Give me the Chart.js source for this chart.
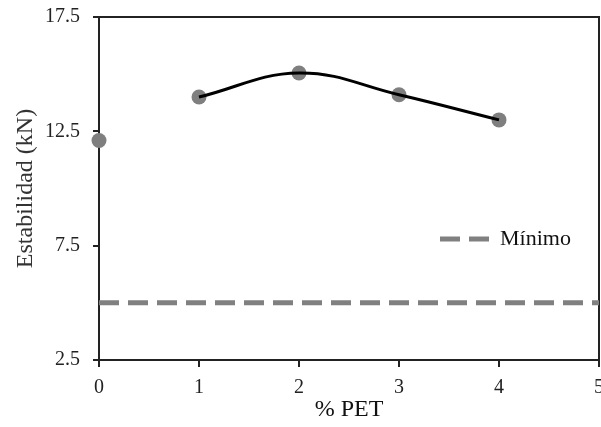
<!DOCTYPE html>
<html>
<head>
<meta charset="utf-8">
<script src="https://cdn.jsdelivr.net/npm/chart.js@4.4.1/dist/chart.umd.min.js"></script>
<style>
  html, body { margin: 0; padding: 0; background: #fff; }
</style>
</head>
<body>
<canvas id="chart" width="601" height="427"></canvas>
<script>
// values
const petSinPet = [0];
const estSinPet = [12.1];
const petMezcla = [1, 2, 3, 4];
const estMezcla = [14.0, 15.05, 14.1, 13.0];
const petMinimo = [0, 5];
const estMinimo = [5, 5];
const xTicks = [0, 1, 2, 3, 4, 5];
const yTicks = [2.5, 7.5, 12.5, 17.5];

const toXY = (xs, ys) => xs.map((x, i) => ({ x: x, y: ys[i] }));

Chart.defaults.font.family = '"Liberation Serif", "Times New Roman", serif';
Chart.defaults.color = '#222';

const axisColor = '#222';

// put the legend inside the plot, right of centre
const legendInside = {
    id: 'legendInside',
    afterLayout(chart) {
        const lg = chart.legend;
        const area = chart.chartArea;
        lg.left = area.right - 169;
        lg.top = area.top + 201;
        lg.right = lg.left + lg.width;
        lg.bottom = lg.top + lg.height;
    }
};

// legend sample should use the dashed line of the dataset
function makeLabels(chart) {
    return Chart.defaults.plugins.legend.labels.generateLabels(chart)
        .filter(item => item.text === 'Mínimo')
        .map(item => {
            const ds = chart.data.datasets[item.datasetIndex];
            item.lineDash = ds.borderDash;
            item.lineWidth = ds.borderWidth;
            item.strokeStyle = ds.borderColor;
            item.pointStyle = 'line';
            return item;
        });
}

const ctx = document.getElementById('chart').getContext('2d');
const chart = new Chart(ctx, {
    type: 'scatter',
    data: {
        datasets: [{
            label: 'Ajuste',
            data: toXY(petMezcla, estMezcla),
            showLine: true,
            borderColor: '#000',
            borderWidth: 3,
            tension: 0.4,
            pointRadius: 0,
            pointHoverRadius: 0,
            clip: false
        }, {
            label: 'Con PET',
            data: toXY(petMezcla, estMezcla),
            pointRadius: 7.5,
            pointBackgroundColor: '#7f7f7f',
            pointBorderWidth: 0,
            clip: false
        }, {
            label: 'Sin PET',
            data: toXY(petSinPet, estSinPet),
            pointRadius: 7.5,
            pointBackgroundColor: '#7f7f7f',
            pointBorderWidth: 0,
            clip: false
        }, {
            label: 'Mínimo',
            data: toXY(petMinimo, estMinimo),
            showLine: true,
            borderColor: '#808080',
            borderWidth: 5,
            borderDash: [20, 9],
            pointRadius: 0,
            pointHoverRadius: 0,
            clip: false
        }]
    },
    options: {
        responsive: false,
        animation: false,
        layout: { autoPadding: false, padding: { top: 17, right: 2, left: 0, bottom: 0 } },
        plugins: {
            tooltip: { enabled: false },
            legend: {
                position: 'chartArea',
                align: 'start',
                labels: {
                    generateLabels: makeLabels,
                    usePointStyle: true,
                    pointStyle: 'line',
                    pointStyleWidth: 49,
                    padding: 10,
                    color: '#111',
                    font: { size: 22 }
                }
            }
        },
        scales: {
            x: {
                type: 'linear',
                position: 'bottom',
                min: 0,
                max: 5,
                afterBuildTicks: s => { s.ticks = xTicks.map(v => ({ value: v })); },
                afterFit: s => { s.height = 67; s.paddingLeft = 0; s.paddingRight = 0; },
                ticks: { font: { size: 20 }, color: '#222', padding: 9 },
                grid: { drawOnChartArea: false, tickLength: 7, color: axisColor, lineWidth: 2 },
                border: { color: axisColor, width: 2 },
                title: {
                    display: true,
                    text: '% PET',
                    color: '#111',
                    font: { size: 24 },
                    padding: { top: -4, bottom: 3 }
                }
            },
            y: {
                type: 'linear',
                position: 'left',
                min: 2.5,
                max: 17.5,
                afterBuildTicks: s => { s.ticks = yTicks.map(v => ({ value: v })); },
                afterFit: s => { s.width = 99; s.paddingTop = 0; s.paddingBottom = 0; },
                ticks: {
                    font: { size: 20 },
                    color: '#222',
                    padding: 13,
                    callback: v => v.toFixed(1)
                },
                grid: { drawOnChartArea: false, tickLength: 6, color: axisColor, lineWidth: 2 },
                border: { color: axisColor, width: 2 },
                title: {
                    display: true,
                    text: 'Estabilidad (kN)',
                    color: '#333',
                    font: { size: 24 },
                    padding: { top: 11, bottom: 4 }
                }
            },
            x2: {
                type: 'linear',
                position: 'top',
                min: 0,
                max: 5,
                afterFit: s => { s.height = 0; },
                ticks: { display: false },
                grid: { display: false, drawTicks: false },
                border: { color: axisColor, width: 2 }
            },
            y2: {
                type: 'linear',
                position: 'right',
                min: 2.5,
                max: 17.5,
                afterFit: s => { s.width = 0; s.paddingTop = 0; s.paddingBottom = 0; },
                ticks: { display: false },
                grid: { display: false, drawTicks: false },
                border: { color: axisColor, width: 2 }
            }
        }
    },
    plugins: [legendInside]
});
</script>
</body>
</html>
